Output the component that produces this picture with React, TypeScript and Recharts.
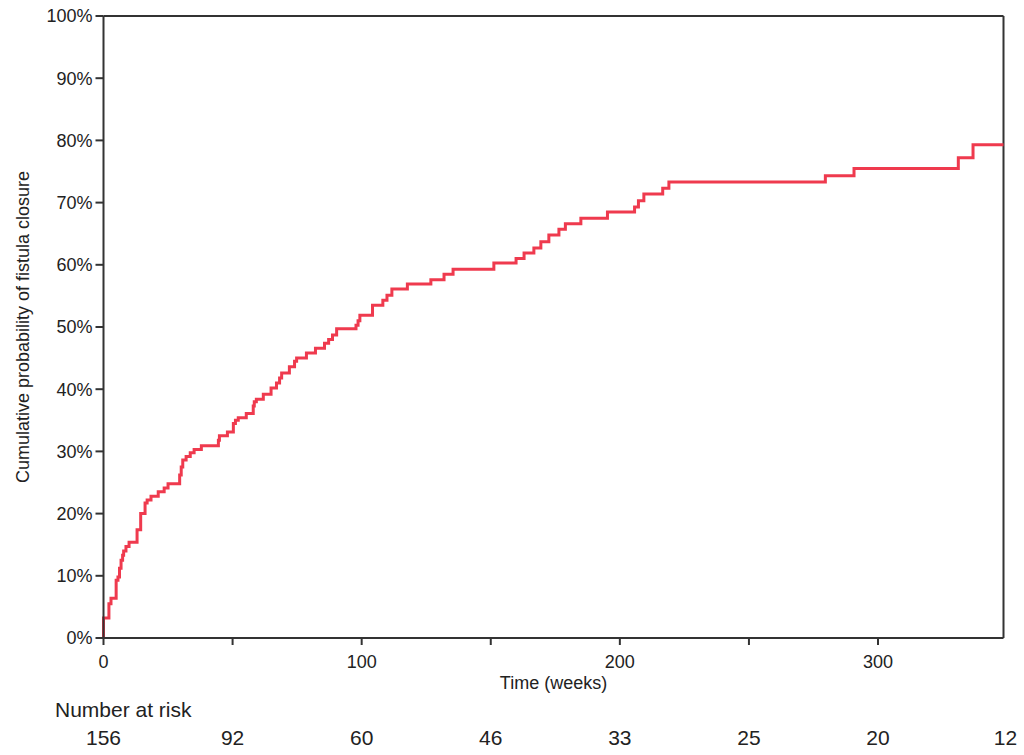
import React from 'react';
import { LineChart, Line, XAxis, YAxis, ReferenceLine } from 'recharts';

// Kaplan-Meier style step points: time (weeks) and cumulative closure (%)
const weeks = [
  0, 0, 2.1, 2.9, 4.9, 5.6, 6.2, 6.8, 7.4, 7.8, 8.7,
  9.9, 13.0, 14.4, 16.1, 16.9, 18.4, 21.2, 23.5, 25.0, 29.5,
  30.1, 30.7, 32.0, 33.6, 35.1, 37.9, 44.5, 44.9, 48.0, 50.3,
  51.1, 52.2, 55.3, 58.0, 58.4, 59.2, 61.9, 64.9, 67.0, 68.2,
  69.0, 72.0, 74.0, 74.8, 78.6, 82.1, 85.6, 87.2, 88.7, 90.3,
  97.8, 98.6, 99.3, 104.2, 108.2, 109.8, 111.7, 117.7, 126.8, 131.9,
  135.4, 151.2, 159.8, 162.9, 166.7, 169.4, 172.5, 176.4, 178.9, 184.9,
  195.2, 205.7, 207.2, 209.3, 216.6, 219.0, 279.6, 290.7, 331.1, 336.8,
  348.6,
];
const closure = [
  0, 3.2, 5.5, 6.4, 9.3, 9.8, 11.2, 12.5, 13.3, 14.0, 14.7,
  15.4, 17.4, 20.0, 21.7, 22.2, 22.8, 23.5, 24.1, 24.8, 26.2,
  27.5, 28.6, 29.2, 29.8, 30.3, 30.9, 31.8, 32.5, 33.1, 34.5,
  35.0, 35.4, 36.1, 37.3, 38.0, 38.4, 39.2, 40.2, 41.0, 41.8,
  42.6, 43.6, 44.5, 45.0, 45.8, 46.6, 47.4, 48.0, 48.7, 49.7,
  50.3, 51.0, 51.9, 53.5, 54.3, 55.1, 56.1, 56.9, 57.6, 58.5,
  59.3, 60.3, 61.0, 61.9, 62.7, 63.7, 64.8, 65.7, 66.6, 67.5,
  68.5, 69.3, 70.3, 71.4, 72.3, 73.3, 74.3, 75.5, 77.2, 79.3,
  79.3,
];

const X_MAX = 348.6;
const riskWeeks = [0, 50, 100, 150, 200, 250, 300, X_MAX];
const riskCounts = [156, 92, 60, 46, 33, 25, 20, 12];
const yTicks = [0, 10, 20, 30, 40, 50, 60, 70, 80, 90, 100];

const data = weeks.map((w, i) => ({ week: w, closure: closure[i] }));

const FONT = '"Liberation Sans", Arial, sans-serif';
const TEXT = '#222';
const AXIS = '#333';
const AXIS_Y = 638;

const XTick = ({ x, payload, index }: any) => {
  const v = payload.value;
  return (
    <g>
      {v <= 300 && <line x1={x} x2={x} y1={AXIS_Y} y2={AXIS_Y + 7} stroke={AXIS} strokeWidth={2} />}
      {v % 100 === 0 && (
        <text x={x} y={AXIS_Y + 30} textAnchor="middle" fontSize={18} fill={TEXT} fontFamily={FONT}>
          {v}
        </text>
      )}
      <text x={index === riskCounts.length - 1 ? x + 2 : x} y={745} textAnchor="middle" fontSize={21} fill={TEXT} fontFamily={FONT}>
        {riskCounts[index]}
      </text>
    </g>
  );
};

const XLabel = () => (
  <g>
    <text x={553.5} y={689} textAnchor="middle" fontSize={18} fill={TEXT} fontFamily={FONT}>
      Time (weeks)
    </text>
    <text x={55} y={717} fontSize={21} fill={TEXT} fontFamily={FONT}>
      Number at risk
    </text>
  </g>
);

const YLabel = () => (
  <text
    x={22.5}
    y={327}
    transform="rotate(-90 22.5 327)"
    textAnchor="middle"
    dominantBaseline="central"
    fontSize={18}
    fill={TEXT}
    fontFamily={FONT}
  >
    Cumulative probability of fistula closure
  </text>
);

export default function App() {
  return (
    <div style={{ position: 'absolute', left: 0, top: 0, background: '#fff' }}>
      <LineChart width={1024} height={755} data={data} margin={{ top: 16, right: 20.5, bottom: 0, left: 3.5 }}>
        <XAxis
          dataKey="week"
          type="number"
          domain={[0, X_MAX]}
          ticks={riskWeeks}
          interval={0}
          height={117}
          tickLine={false}
          axisLine={{ stroke: AXIS, strokeWidth: 2 }}
          tick={<XTick />}
          label={<XLabel />}
        />
        <YAxis
          type="number"
          domain={[0, 100]}
          ticks={yTicks}
          width={100}
          tickSize={8}
          tickMargin={3}
          tickFormatter={(v: number) => `${v}%`}
          tick={{ fontSize: 18, fill: TEXT, fontFamily: FONT }}
          tickLine={{ stroke: AXIS, strokeWidth: 2 }}
          axisLine={{ stroke: AXIS, strokeWidth: 2 }}
          label={<YLabel />}
        />
        <ReferenceLine y={100} stroke={AXIS} strokeWidth={2} />
        <ReferenceLine x={X_MAX} stroke={AXIS} strokeWidth={2} />
        <Line
          type="stepAfter"
          dataKey="closure"
          stroke="#EF3A4E"
          strokeWidth={3}
          dot={false}
          isAnimationActive={false}
        />
      </LineChart>
    </div>
  );
}
